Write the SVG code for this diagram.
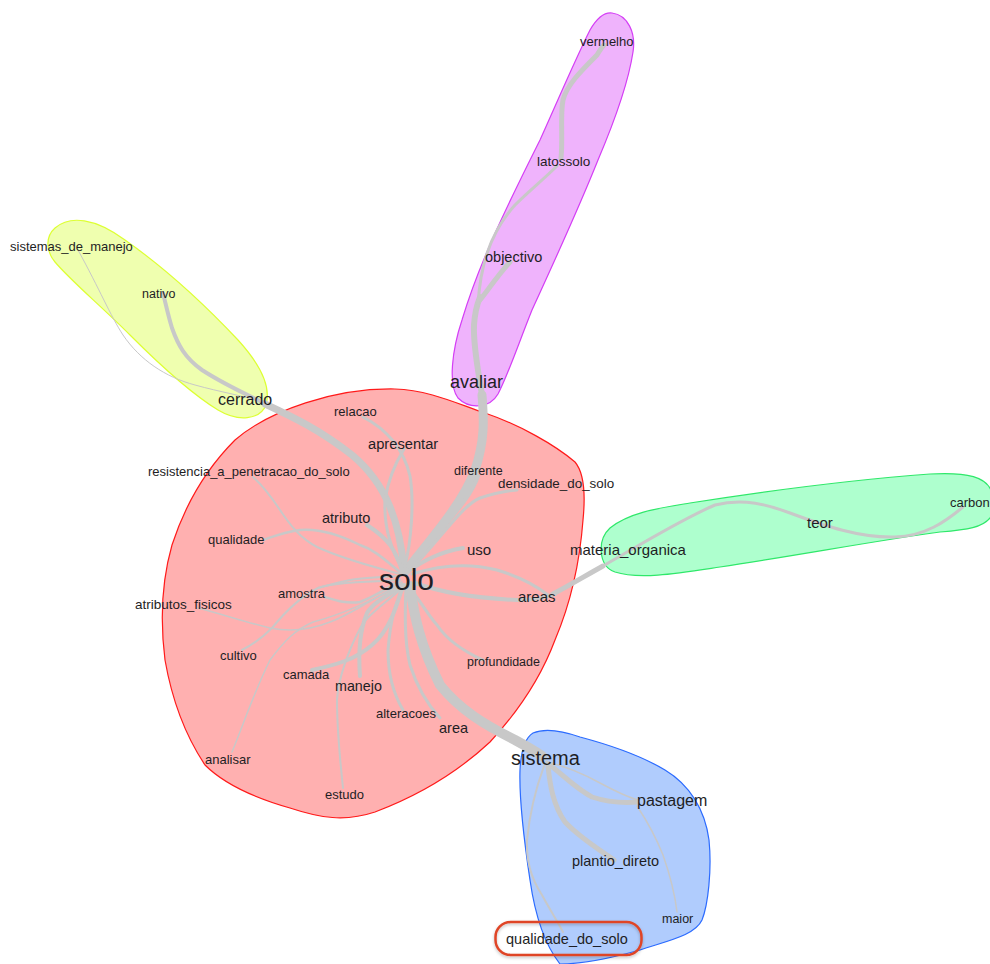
<svg xmlns="http://www.w3.org/2000/svg" width="990" height="964" viewBox="0 0 990 964">
  <style>
    .hull { stroke-width: 1.2; stroke-linejoin: round; }
    .e { fill: none; stroke: #c8c8c8; stroke-linecap: round; stroke-linejoin: round; }
    text { font-family: "Liberation Sans", Arial, sans-serif; fill: #1e1e24; text-anchor: start; }
  </style>
  <defs>
    <filter id="soft" x="-10%" y="-30%" width="120%" height="160%">
      <feDropShadow dx="0" dy="1.5" stdDeviation="1.5" flood-color="#000" flood-opacity="0.25"/>
    </filter>
  </defs>
  <rect width="990" height="964" fill="#ffffff"/>

  <!-- cluster hulls -->
  <g id="hulls">
    <path class="hull" fill="#ffb0b0" stroke="#ff1a1a" d="M395,389 C430,390 460,405 485,413 C520,425 555,445 575,462 C586,475 585,500 583,520 C580,560 572,600 555,640 C540,680 515,715 490,742 C460,770 420,795 375,812 C345,822 320,818 290,808 C255,798 225,785 205,765 C185,735 172,700 165,660 C160,620 162,580 172,545 C185,505 205,470 235,440 C270,410 335,388 395,389 Z"/>
    <path class="hull" fill="#efb3fc" stroke="#d43ef5" d="M612,13 C628,15 636,33 633,52 C628,85 615,120 598,160 C578,210 555,260 532,310 C518,345 508,375 498,394 C490,408 470,410 458,398 C448,385 452,350 462,320 C480,260 510,200 540,140 C558,100 575,60 590,30 C597,18 604,12 612,13 Z"/>
    <path class="hull" fill="#efffaf" stroke="#ddff33" d="M55,228 C70,215 95,218 125,240 C165,268 205,305 238,340 C258,362 272,385 266,405 C260,420 238,422 218,410 C190,393 160,365 130,335 C100,305 70,280 55,262 C45,250 46,236 55,228 Z"/>
    <path class="hull" fill="#aeffce" stroke="#2fe86a" d="M610,528 C630,512 660,508 690,503 C760,492 850,480 930,474 C965,472 990,476 992,495 L992,515 C985,528 965,530 940,532 C880,540 800,555 720,567 C680,573 640,580 615,572 C598,566 597,540 610,528 Z"/>
    <path class="hull" fill="#b0ccfd" stroke="#2b6bff" d="M533,733 C545,728 560,730 580,737 C610,745 640,755 665,770 C690,785 705,810 709,840 C712,870 708,905 702,920 C695,935 670,940 640,950 C615,957 585,964 560,964 C545,945 535,915 530,880 C524,840 519,800 520,770 C521,750 525,738 533,733 Z"/>
  </g>

  <!-- connectors -->
  <g id="edges">
    <!-- solo hub -->
    <path class="e" stroke-width="9" d="M405,572 C430,540 462,505 475,470 C485,440 484,420 482,395"/>
    <path class="e" stroke-width="4" d="M408,570 C430,545 450,520 465,500 C472,490 476,482 478,476"/>
    <path class="e" stroke-width="3" d="M412,568 C440,540 462,505 480,498 C495,493 505,491 517,490"/>
    <path class="e" stroke-width="4" d="M410,570 C425,560 440,552 463,548"/>
    <path class="e" stroke-width="3" d="M412,574 C440,565 470,563 497,570 C520,577 535,585 548,595"/>
    <path class="e" stroke-width="4" d="M415,583 C440,592 470,598 517,600 C535,600 545,598 555,594"/>
    <path class="e" stroke-width="5" d="M553,594 C570,585 585,576 603,566"/>
    <path class="e" stroke-width="7" d="M404,570 C400,525 388,485 352,455 C320,430 295,418 265,404"/>
    <path class="e" stroke-width="3" d="M404,570 C412,540 414,500 410,476 C405,455 392,432 363,417"/>
    <path class="e" stroke-width="3" d="M403,570 C388,545 384,520 385,500 C388,480 396,462 404,449"/>
    <path class="e" stroke-width="4" d="M402,570 C395,550 390,540 367,525"/>
    <path class="e" stroke-width="2.5" d="M400,572 C385,560 375,550 360,545 C340,535 320,528 300,530 C280,533 270,538 263,540"/>
    <path class="e" stroke-width="2" d="M400,574 C380,568 350,562 317,547 C300,538 290,525 280,510 C272,498 262,485 253,477"/>
    <path class="e" stroke-width="2" d="M400,576 C380,577 360,578 350,580 C335,583 325,586 318,588"/>
    <path class="e" stroke-width="2.5" d="M400,580 C385,590 375,596 360,602 C345,604 335,600 325,597"/>
    <path class="e" stroke-width="2" d="M400,580 C370,582 335,582 318,588 C300,597 285,612 272,628 C260,640 248,647 242,650"/>
    <path class="e" stroke-width="1.5" d="M402,582 C380,595 350,615 330,622 C310,630 290,632 270,628 C245,622 225,615 198,608"/>
    <path class="e" stroke-width="1.5" d="M402,584 C375,600 340,615 313,622 C295,630 285,640 270,660 C255,690 245,720 232,752"/>
    <path class="e" stroke-width="4" d="M403,585 C397,605 390,630 372,645 C355,660 335,665 312,670"/>
    <path class="e" stroke-width="4" d="M404,585 C395,592 375,600 367,613 C360,630 358,650 360,676"/>
    <path class="e" stroke-width="2" d="M404,586 C390,600 370,612 362,625 C348,650 338,680 337,700 C337,730 340,760 343,788"/>
    <path class="e" stroke-width="3" d="M405,586 C395,600 390,625 388,650 C388,675 394,695 403,710"/>
    <path class="e" stroke-width="3" d="M406,586 C405,610 404,640 410,665 C418,690 428,705 440,718"/>
    <path class="e" stroke-width="3" d="M408,586 C420,600 428,615 437,625 C447,640 465,652 483,660"/>
    <path class="e" stroke-width="10" d="M410,586 C414,615 420,645 440,685 C460,710 485,725 515,740 C528,747 536,752 542,756"/>
    <!-- avaliar branch -->
    <path class="e" stroke-width="6" d="M482,395 C478,370 473,345 474,325 C475,310 478,302 480,297"/>
    <path class="e" stroke-width="5" d="M480,300 C488,290 498,275 510,262"/>
    <path class="e" stroke-width="3" d="M478,305 C480,270 488,235 515,205 C530,190 545,178 557,166"/>
    <path class="e" stroke-width="5" d="M561,158 C563,140 560,115 563,100 C567,85 580,72 597,55 C600,50 602,47 604,45"/>
    <!-- cerrado branch -->
    <path class="e" stroke-width="4" d="M266,404 C250,396 225,385 202,370 C185,358 178,345 172,328 C168,315 166,305 163,293"/>
    <path class="e" stroke-width="1" d="M266,403 C245,396 220,392 195,385 C165,377 140,360 123,335 C110,315 100,290 78,250"/>
    <!-- materia_organica branch -->
    <path class="e" stroke-width="3" d="M603,566 C640,545 680,520 715,505 C735,500 755,500 790,513 C825,526 860,538 895,537 C925,536 945,522 963,507"/>
    <!-- sistema branch -->
    <path class="e" stroke-width="5" d="M547,763 C560,772 575,788 592,797 C610,803 625,803 638,802"/>
    <path class="e" stroke-width="1.5" d="M547,762 C560,765 580,772 600,783 C615,791 627,797 638,800"/>
    <path class="e" stroke-width="5" d="M548,766 C550,785 553,805 565,822 C580,838 600,850 614,860"/>
    <path class="e" stroke-width="1.5" d="M637,806 C645,818 655,835 663,855 C670,875 675,895 677,912"/>
    <path class="e" stroke-width="2" d="M544,766 C537,785 530,810 527,840 C526,862 532,880 542,895 C550,910 558,922 563,932"/>
  </g>

  <!-- nodes -->
  <g id="n-solo"><text x="379" y="590" font-size="30">solo</text></g>
  <g id="n-sistema"><text x="511" y="765" font-size="20">sistema</text></g>
  <g id="n-avaliar"><text x="450" y="388" font-size="18">avaliar</text></g>
  <g id="n-cerrado"><text x="218" y="405" font-size="16">cerrado</text></g>
  <g id="n-pastagem"><text x="637" y="806" font-size="16">pastagem</text></g>
  <g id="n-materia_organica"><text x="570" y="555" font-size="15">materia_organica</text></g>
  <g id="n-teor"><text x="807" y="528" font-size="15">teor</text></g>
  <g id="n-carbon"><text x="950" y="507" font-size="13">carbon</text></g>
  <g id="n-uso"><text x="467" y="555" font-size="15">uso</text></g>
  <g id="n-areas"><text x="518" y="602" font-size="15">areas</text></g>
  <g id="n-apresentar"><text x="368" y="449" font-size="14.7">apresentar</text></g>
  <g id="n-atributo"><text x="322" y="523" font-size="14.5">atributo</text></g>
  <g id="n-relacao"><text x="334" y="416" font-size="13">relacao</text></g>
  <g id="n-diferente"><text x="454" y="475" font-size="12.5">diferente</text></g>
  <g id="n-densidade_do_solo"><text x="498" y="488" font-size="13.4">densidade_do_solo</text></g>
  <g id="n-resistencia_a_penetracao_do_solo"><text x="148" y="476" font-size="13">resistencia_a_penetracao_do_solo</text></g>
  <g id="n-qualidade"><text x="208" y="544" font-size="13">qualidade</text></g>
  <g id="n-amostra"><text x="278" y="598" font-size="13">amostra</text></g>
  <g id="n-atributos_fisicos"><text x="135" y="609" font-size="13.5">atributos_fisicos</text></g>
  <g id="n-cultivo"><text x="220" y="660" font-size="13">cultivo</text></g>
  <g id="n-camada"><text x="283" y="679" font-size="13">camada</text></g>
  <g id="n-manejo"><text x="335" y="691" font-size="14.3">manejo</text></g>
  <g id="n-alteracoes"><text x="376" y="718" font-size="13">alteracoes</text></g>
  <g id="n-area"><text x="439" y="733" font-size="14.5">area</text></g>
  <g id="n-profundidade"><text x="467" y="666" font-size="12.5">profundidade</text></g>
  <g id="n-analisar"><text x="205" y="764" font-size="13">analisar</text></g>
  <g id="n-estudo"><text x="325" y="799" font-size="13">estudo</text></g>
  <g id="n-plantio_direto"><text x="572" y="866" font-size="14.5">plantio_direto</text></g>
  <g id="n-maior"><text x="662" y="923" font-size="12.5">maior</text></g>
  <g id="n-qualidade_do_solo">
    <rect x="495.5" y="922" width="146" height="33" rx="15" fill="none" stroke="#df4528" stroke-width="2.5" filter="url(#soft)"/>
    <text x="506" y="944" font-size="14.5">qualidade_do_solo</text>
  </g>
  <g id="n-sistemas_de_manejo"><text x="10" y="251" font-size="13">sistemas_de_manejo</text></g>
  <g id="n-nativo"><text x="142" y="298" font-size="12.5">nativo</text></g>
  <g id="n-vermelho"><text x="580" y="46" font-size="13">vermelho</text></g>
  <g id="n-latossolo"><text x="537" y="166" font-size="13.5">latossolo</text></g>
  <g id="n-objectivo"><text x="485" y="262" font-size="14.5">objectivo</text></g>
</svg>
